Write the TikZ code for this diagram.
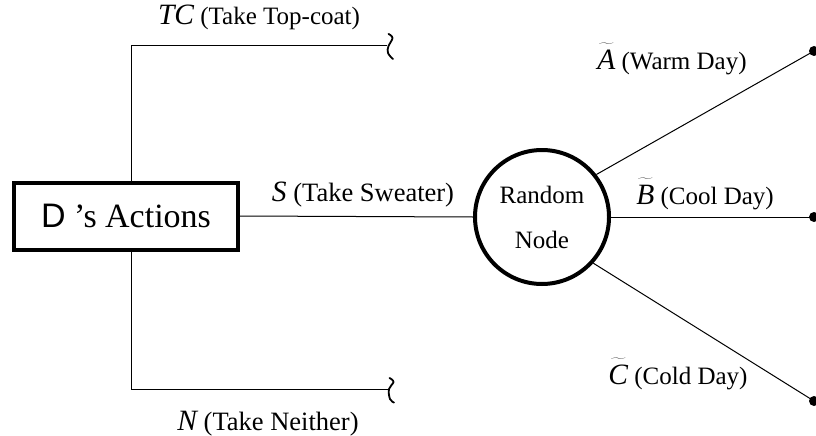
\documentclass[tikz,border=0pt]{standalone}
\usepackage{fontspec}
\setmainfont{Liberation Serif}
\newfontfamily\dfont{Liberation Sans}
\usetikzlibrary{calc}

\tikzset{
  branch/.style={line width=1pt},
  actbox/.style={draw, line width=4pt, minimum width=224pt, minimum height=67pt, inner sep=0pt,
    font=\fontsize{34}{40}\selectfont},
  chance/.style={draw, circle, line width=4pt, minimum size=134pt, inner sep=0pt,
    align=center, font=\fontsize{25}{45}\selectfont},
  lbl/.style={inner sep=0pt, font=\fontsize{25}{28}\selectfont},
  biglbl/.style={lbl, font=\fontsize{26.5}{28}\selectfont},
  leaf/.style={circle, fill=black, minimum size=10pt, inner sep=0pt},
  cut/.style={line width=1.8pt, line cap=round},
}
\newcommand{\vname}[1]{{\fontsize{29.5}{30}\selectfont\itshape #1}}
\newcommand{\tname}[1]{\ensuremath{\widetilde{\raisebox{0pt}[\dimexpr\height+4.5pt\relax]{\fontsize{29.5}{30}\selectfont\itshape #1}}}}

\begin{document}
\begin{tikzpicture}[x=1pt, y=-1pt]
  \useasboundingbox (0,0) rectangle (816,436);

  % decision node and chance node
  \node[actbox] (act) at (126,216) {{\dfont D} 's Actions};
  \node[chance] (rn) at (542,217) {Random\\Node};

  % branch end points
  \coordinate (tcCorner) at (131,46);
  \coordinate (tcEnd) at (387,46);
  \coordinate (nCorner) at (131,389);
  \coordinate (nEnd) at (388,389);
  \node[leaf] (dA) at (814,51) {};
  \node[leaf] (dB) at (814,217) {};
  \node[leaf] (dC) at (814,401) {};

  % decision branches
  \draw[branch] (tcCorner |- act.north) -- (tcCorner) -- (tcEnd);
  \draw[branch] (nCorner |- act.south) -- (nCorner) -- (nEnd);
  \draw[branch] (act.east) -- (rn.west);

  % break marks at the open ends
  \begin{scope}[shift={(tcEnd)}]
    \draw[cut] plot[smooth, tension=0.7] coordinates {(1.5,-12) (5.5,-8) (1.5,0) (1,7) (6,13)};
  \end{scope}
  \begin{scope}[shift={(nEnd)}]
    \draw[cut] plot[smooth, tension=0.7] coordinates {(1.5,-11) (5.5,-7) (1,0) (2,10) (6,13.5)};
  \end{scope}

  % chance branches
  \draw[branch] (rn.38) -- (dA.center);
  \draw[branch] (rn.east) -- (dB.center);
  \draw[branch] (rn.-42) -- (dC.center);

  % labels
  \node[lbl] (lTC) at (259,17) {\vname{TC} (Take Top-coat)};
  \node[biglbl] (lS) at (363,195) {\vname{S} (Take Sweater)};
  \node[biglbl] (lN) at (268,424) {\vname{N} (Take Neither)};
  \node[lbl] (lA) at (672,59) {\tname{A} (Warm Day)};
  \node[lbl] (lB) at (705,194) {\tname{B} (Cool Day)};
  \node[lbl] (lC) at (678,374) {\tname{C} (Cold Day)};
\end{tikzpicture}
\end{document}
